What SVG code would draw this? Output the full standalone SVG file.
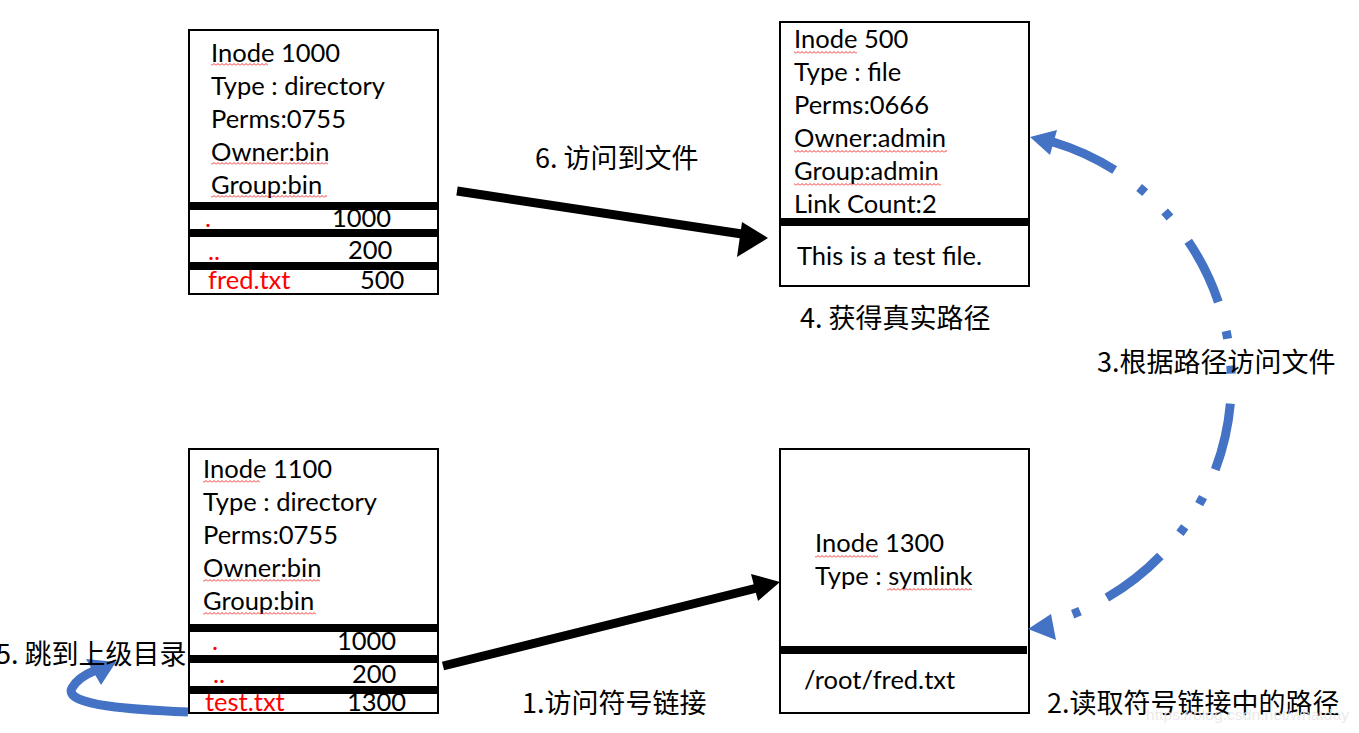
<svg xmlns="http://www.w3.org/2000/svg" width="1359" height="733" viewBox="0 0 1359 733">
<style>
.box{fill:#fff;stroke:#000;stroke-width:2}
.bar{fill:#000}
.t{font-family:Lato,"Open Sans","Liberation Sans",sans-serif;font-size:25.5px;fill:#000}
.r{fill:#f00}
.cn{font-family:"Noto Sans CJK SC","Noto Sans",sans-serif;font-size:27px;fill:#000}
.sq{fill:url(#wave)}
.blk{stroke:#000;stroke-width:9;fill:none}
.blu{stroke:#4472c4;stroke-width:9;fill:none}
</style>
<defs>
<pattern id="wave" width="4" height="3" patternUnits="userSpaceOnUse">
<path d="M0,2.5 L2,0.5 L4,2.5" stroke="#e00" stroke-width="0.8" fill="none"/>
</pattern>
</defs>

<g id="node-inode1000">
<rect class="box" x="189" y="30" width="249" height="264"/>
<text class="t" x="211" y="62">Inode 1000</text>
<text class="t" x="211" y="95">Type : directory</text>
<text class="t" x="211" y="128">Perms:0755</text>
<text class="t" x="211" y="161">Owner:bin</text>
<text class="t" x="211" y="194">Group:bin</text>
<rect class="sq" x="211" y="63" width="57" height="3"/>
<rect class="sq" x="211" y="162" width="117" height="3"/>
<rect class="sq" x="211" y="195" width="116" height="3"/>
<rect class="bar" x="189" y="202" width="249" height="8"/>
<rect class="bar" x="189" y="229" width="249" height="8"/>
<rect class="bar" x="189" y="262" width="249" height="8"/>
<text class="t r" x="205" y="227">.</text>
<text class="t" x="332" y="227">1000</text>
<text class="t r" x="208" y="260">..</text>
<text class="t" x="348" y="259">200</text>
<text class="t r" x="208" y="289">fred.txt</text>
<text class="t" x="360" y="289">500</text>
</g>

<g id="node-inode500">
<rect class="box" x="780" y="22" width="249" height="264"/>
<text class="t" x="794" y="48">Inode 500</text>
<text class="t" x="794" y="81">Type : file</text>
<text class="t" x="794" y="114">Perms:0666</text>
<text class="t" x="794" y="147">Owner:admin</text>
<text class="t" x="794" y="180">Group:admin</text>
<text class="t" x="794" y="213">Link Count:2</text>
<rect class="sq" x="794" y="51" width="63" height="3"/>
<rect class="sq" x="794" y="150" width="153" height="3"/>
<rect class="sq" x="794" y="183" width="147" height="3"/>
<rect class="bar" x="780" y="218" width="249" height="8"/>
<text class="t" x="797" y="265">This is a test file.</text>
</g>

<g id="node-inode1100">
<rect class="box" x="189" y="449" width="249" height="264"/>
<text class="t" x="203" y="478">Inode 1100</text>
<text class="t" x="203" y="511">Type : directory</text>
<text class="t" x="203" y="544">Perms:0755</text>
<text class="t" x="203" y="577">Owner:bin</text>
<text class="t" x="203" y="610">Group:bin</text>
<rect class="sq" x="203" y="480" width="57" height="3"/>
<rect class="sq" x="203" y="579" width="117" height="3"/>
<rect class="sq" x="203" y="612" width="113" height="3"/>
<rect class="bar" x="189" y="624" width="249" height="8"/>
<rect class="bar" x="189" y="655" width="249" height="8"/>
<rect class="bar" x="189" y="686" width="249" height="8"/>
<text class="t r" x="212" y="650">.</text>
<text class="t" x="337" y="650">1000</text>
<text class="t r" x="213" y="683">..</text>
<text class="t" x="352" y="683">200</text>
<text class="t r" x="205" y="711">test.txt</text>
<text class="t" x="347" y="711">1300</text>
</g>

<g id="node-inode1300">
<rect class="box" x="780" y="449" width="249" height="264"/>
<text class="t" x="815" y="552">Inode 1300</text>
<text class="t" x="815" y="585">Type : symlink</text>
<rect class="sq" x="815" y="555" width="63" height="3"/>
<rect class="sq" x="887" y="588" width="85" height="3"/>
<rect class="bar" x="779" y="646" width="248" height="8"/>
<text class="t" x="804" y="689">/root/fred.txt</text>
</g>

<g id="connectors">
<line class="blk" x1="457" y1="191" x2="742" y2="234"/>
<polygon points="768,238 742,222 737,257" fill="#000"/>
<line class="blk" x1="443" y1="666" x2="757" y2="588"/>
<polygon points="780,582 751,574 758,601" fill="#000"/>
<path class="blu" d="M1053,142 A250,250 0 0 1 1053,621" stroke-dasharray="68 30 8 27 8 30"/>
<polygon points="1030,137 1057,130 1050,155" fill="#4472c4"/>
<polygon points="1028,629 1051,614 1056,640" fill="#4472c4"/>
<path class="blu" d="M188,712 C140,710 62,706 72,688 C77,679 86,674 96,670"/>
<polygon points="116,662 86,659 101,685" fill="#4472c4"/>
</g>

<g id="labels">
<text class="cn" x="535" y="168">6. 访问到文件</text>
<text class="cn" x="800" y="328">4. 获得真实路径</text>
<text class="cn" x="1097" y="372">3.根据路径访问文件</text>
<text class="cn" x="-4" y="664">5. 跳到上级目录</text>
<text class="cn" x="522" y="713">1.访问符号链接</text>
<text class="cn" x="1047" y="713">2.读取符号链接中的路径</text>
<text x="1146" y="720" font-family="'Liberation Sans',sans-serif" font-size="15" textLength="203" lengthAdjust="spacingAndGlyphs" fill="#e6e6e6" fill-opacity="0.85">https://blog.csdn.net/whatday</text>
</g>
</svg>
